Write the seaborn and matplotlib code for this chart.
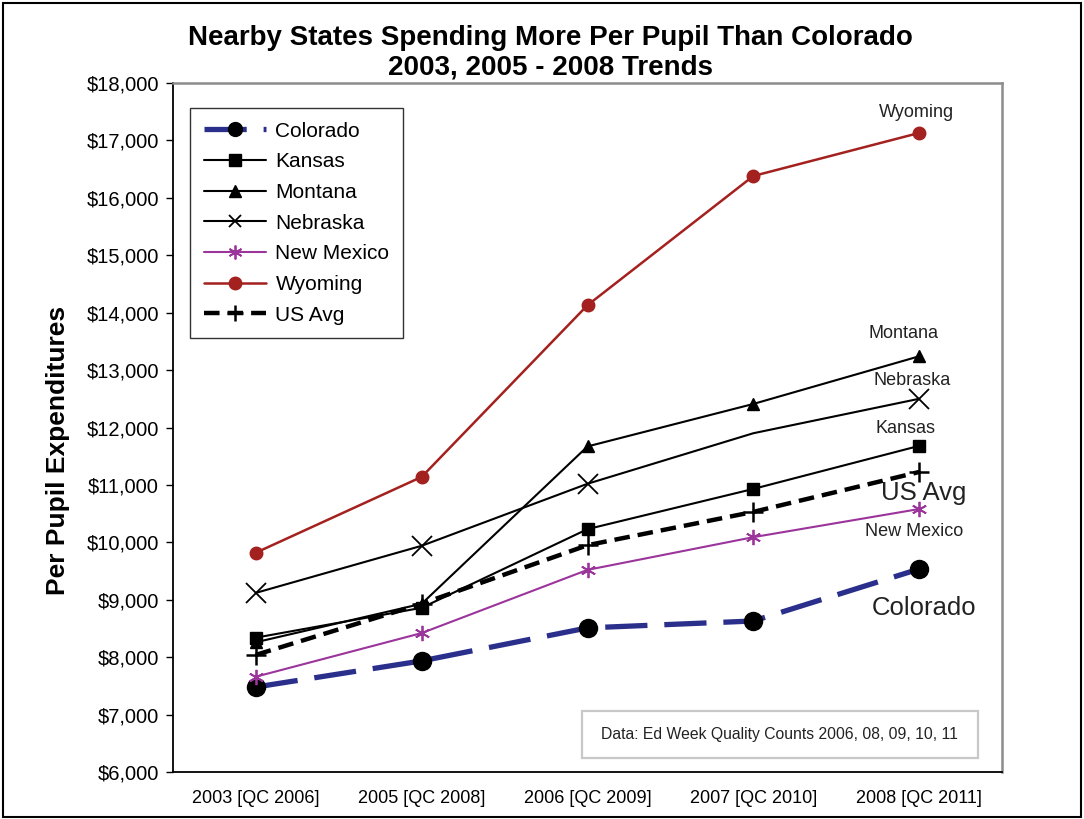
import matplotlib
matplotlib.use("Agg")
import matplotlib.pyplot as plt
import matplotlib.ticker as mticker
from matplotlib.patches import Rectangle
import seaborn as sns
import pandas as pd

years = ["2003 [QC 2006]", "2005 [QC 2008]", "2006 [QC 2009]", "2007 [QC 2010]", "2008 [QC 2011]"]
colorado = [7480, 7935, 8510, 8630, 9535]
kansas = [8340, 8860, 10230, 10930, 11680]
montana = [8260, 8930, 11670, 12410, 13240]
nebraska = [9120, 9940, 11020, 11900, 12500]
new_mexico = [7660, 8420, 9520, 10090, 10580]
wyoming = [9820, 11140, 14130, 16380, 17130]
us_avg = [8040, 8930, 9950, 10530, 11225]

series = {
    "Colorado": colorado,
    "Kansas": kansas,
    "Montana": montana,
    "Nebraska": nebraska,
    "New Mexico": new_mexico,
    "Wyoming": wyoming,
    "US Avg": us_avg,
}

rows = []
for name, vals in series.items():
    for i, v in enumerate(vals):
        rows.append({"state": name, "idx": i, "value": v})
df = pd.DataFrame(rows)

sns.set_style("white")
plt.rcParams["font.family"] = ["Liberation Sans", "DejaVu Sans"]
plt.rcParams["text.color"] = "black"
plt.rcParams["axes.labelcolor"] = "black"
plt.rcParams["xtick.color"] = "black"
plt.rcParams["ytick.color"] = "black"

styles = {
    "Colorado": dict(color="#2B2F8C", lw=3.8, dashes=(8, 3.2), marker="o", ms=13, mfc="black", mec="black", lms=10),
    "Kansas": dict(color="black", lw=1.5, dashes=None, marker="s", ms=9, mfc="black", mec="black", lms=8),
    "Montana": dict(color="black", lw=1.5, dashes=None, marker="^", ms=9, mfc="black", mec="black", lms=8),
    "Nebraska": dict(color="black", lw=1.5, dashes=None, marker="x", ms=15, mfc="black", mec="black", lms=9),
    "New Mexico": dict(color="#9B349B", lw=1.5, dashes=None, marker=(6, 2, 0), ms=11, mfc="#9B349B", mec="#9B349B", lms=10),
    "Wyoming": dict(color="#A3211F", lw=1.8, dashes=None, marker="o", ms=9, mfc="#A3211F", mec="#A3211F", lms=9),
    "US Avg": dict(color="black", lw=3.2, dashes=(3.5, 1.8), marker="+", ms=15, mfc="black", mec="black", lms=11),
}

fig = plt.figure(figsize=(10.84, 8.19), dpi=100)
ax = fig.add_axes([173 / 1084, 1 - 772 / 819, (1002 - 173) / 1084, (772 - 83) / 819])

for name in series:
    st = styles[name]
    sub = df[df["state"] == name]
    sns.lineplot(data=sub, x="idx", y="value", ax=ax, color=st["color"], linewidth=st["lw"],
                 label=name, legend=False)
    line = ax.lines[-1]
    if st["dashes"] is not None:
        line.set_dashes(st["dashes"])
    line.set_marker(st["marker"])
    line.set_markersize(st["ms"])
    line.set_markerfacecolor(st["mfc"])
    line.set_markeredgecolor(st["mec"])
    mew = 1.3 if name in ("Nebraska", "New Mexico") else 1.8 if name == "US Avg" else 1.0
    line.set_markeredgewidth(mew)
    if name == "Nebraska":
        line.set_markevery([0, 1, 2, 4])

ax.set_xlim(-0.5, 4.5)
ax.set_ylim(6000, 18000)
ax.set_xticks(range(len(years)))
ax.set_xticklabels(years, fontsize=13)
ax.set_xticks([i - 0.5 for i in range(len(years) + 1)], minor=True)
ax.tick_params(axis="x", which="major", length=0, pad=13)
ax.tick_params(axis="x", which="minor", length=6, width=1, color="black", direction="out")
ax.yaxis.set_major_locator(mticker.MultipleLocator(1000))
ax.yaxis.set_major_formatter(mticker.FuncFormatter(lambda v, p: f"${v:,.0f}"))
ax.tick_params(axis="y", labelsize=14.5, length=5, width=1, color="black", direction="out", left=True, pad=5)
ax.set_xlabel("")
ax.set_ylabel("Per Pupil Expenditures", fontsize=19, fontweight="bold")
ax.yaxis.set_label_coords(-0.124, 0.467)

for side in ("left", "bottom"):
    ax.spines[side].set_color("black")
    ax.spines[side].set_linewidth(1.3)
for side in ("top", "right"):
    ax.spines[side].set_color("#8C8C8C")
    ax.spines[side].set_linewidth(1.8)

fig.text(550 / 1084, 1 - 25 / 819, "Nearby States Spending More Per Pupil Than Colorado\n2003, 2005 - 2008 Trends",
         ha="center", va="top", fontsize=20, fontweight="bold", linespacing=1.17, color="black")

leg = ax.legend(loc="upper left", bbox_to_anchor=(0.0205, 0.9637), borderaxespad=0, fontsize=15,
                frameon=True, fancybox=False, edgecolor="black", handlelength=3.0,
                labelspacing=0.56, borderpad=0.65, handletextpad=0.45)
leg.get_frame().set_linewidth(1.0)
for h, name in zip(leg.legend_handles, series):
    h.set_markersize(styles[name]["lms"])

# end labels (offsets in points)
last = len(years) - 1
lab = dict(textcoords="offset points", ha="center", va="center", color="#222222")
ax.annotate("Wyoming", (last, wyoming[-1]), xytext=(-2, 14.5), fontsize=13, **lab)
ax.annotate("Montana", (last, montana[-1]), xytext=(-11, 16.5), fontsize=13, **lab)
ax.annotate("Nebraska", (last, nebraska[-1]), xytext=(-5, 13), fontsize=13, **lab)
ax.annotate("Kansas", (last, kansas[-1]), xytext=(-10, 12.5), fontsize=13, **lab)
ax.annotate("US Avg", (last, us_avg[-1]), xytext=(3.5, -15), fontsize=18.5, **lab)
ax.annotate("New Mexico", (last, new_mexico[-1]), xytext=(-3.5, -16.5), fontsize=13, **lab)
ax.annotate("Colorado", (last, colorado[-1]), xytext=(3.5, -28), fontsize=18.5, **lab)

ax.add_patch(Rectangle((0.4934, 0.0203), 0.971 - 0.4934, 0.0885 - 0.0203, transform=ax.transAxes,
                       fill=True, fc="white", ec="#C8C8C8", lw=1.6, zorder=5))
ax.text(0.732, 0.0544, "Data: Ed Week Quality Counts 2006, 08, 09, 10, 11", transform=ax.transAxes,
        fontsize=11.3, ha="center", va="center", color="#222222", zorder=6)

fig.patches.append(Rectangle((0.003, 0.002), 0.994, 0.994, transform=fig.transFigure,
                             fill=False, ec="black", lw=1.5))

fig.savefig("out.png", dpi=100)
